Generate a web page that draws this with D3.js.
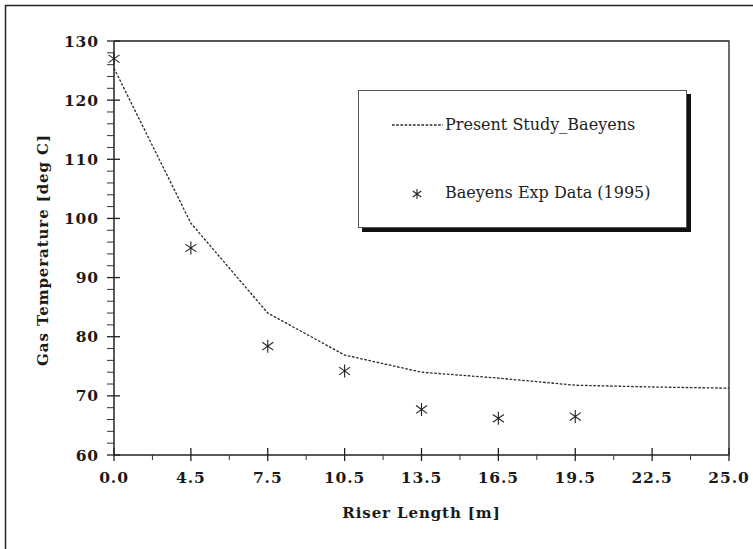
<!DOCTYPE html>
<html>
<head>
<meta charset="utf-8">
<script src="https://cdn.jsdelivr.net/npm/d3@7"></script>
<style>
  body { margin: 0; background: #fff; }
  svg { display: block; }
  .tick-lbl { font-family: "DejaVu Serif", serif; font-weight: bold; font-size: 15.5px; fill: #1a1a1a; letter-spacing: 0.9px; }
  .ttl { font-family: "DejaVu Serif", serif; font-weight: bold; font-size: 15px; fill: #1a1a1a; letter-spacing: 0.9px; }
  .leg { font-family: "DejaVu Serif", serif; font-size: 16px; fill: #222; }
</style>
</head>
<body>
<svg id="chart" width="753" height="549"></svg>
<script>
// x positions (riser length, m) - the axis is spaced evenly by label
const riserLength = ["0.0", "4.5", "7.5", "10.5", "13.5", "16.5", "19.5", "22.5", "25.0"]
// present study (dashed line)
const modelTemp = [125.4, 99.2, 84.0, 76.9, 74.0, 73.0, 71.8, 71.5, 71.3]
// Baeyens experimental data
const expLength = ["0.0", "4.5", "7.5", "10.5", "13.5", "16.5", "19.5"]
const expTemp = [127.0, 95.0, 78.4, 74.2, 67.7, 66.2, 66.5]
const yTicks = [60, 70, 80, 90, 100, 110, 120, 130]

const svg = d3.select("#chart")
const margin = {left: 114, right: 24, top: 41, bottom: 94}
const W = 753, H = 549

//outer frame (only top/left are inside the picture)
svg.append("path")
    .attr("d", `M5.5,${H}V5.5H${W}`)
    .attr("fill", "none").attr("stroke", "#222").attr("stroke-width", 1.5)

const x = d3.scalePoint().domain(riserLength).range([margin.left, W - margin.right])
const y = d3.scaleLinear().domain([60, 130]).range([H - margin.bottom, margin.top])
const x0 = x.range()[0], x1 = x.range()[1], y0 = y.range()[0], y1 = y.range()[1]

//plot box top + right
svg.append("path")
    .attr("d", `M${x0},${y1}H${x1}V${y0}`)
    .attr("fill", "none").attr("stroke", "#222").attr("stroke-width", 1.3)

// y axis
const yAxis = svg.append("g").attr("transform", `translate(${x0},0)`)
yAxis.append("line").attr("y1", y0).attr("y2", y1).attr("stroke", "#222").attr("stroke-width", 1.5)
const yMinor = d3.range(60, 131, 2).filter(v => v % 10 !== 0)
yAxis.selectAll(".ymin").data(yMinor).enter().append("line")
    .attr("x1", -7).attr("x2", 0)
    .attr("y1", d => y(d)).attr("y2", d => y(d))
    .attr("stroke", "#333").attr("stroke-width", 1)
yAxis.selectAll(".ymaj").data(yTicks).enter().append("line")
    .attr("x1", -7).attr("x2", 6)
    .attr("y1", d => y(d)).attr("y2", d => y(d))
    .attr("stroke", "#222").attr("stroke-width", 1.3)
yAxis.selectAll(".ylbl").data(yTicks).enter().append("text")
    .attr("class", "tick-lbl")
    .attr("x", -15).attr("y", d => y(d))
    .attr("dy", "0.36em")
    .attr("text-anchor", "end")
    .text(d => d)

// x axis
const xAxis = svg.append("g").attr("transform", `translate(0,${y0})`)
xAxis.append("line").attr("x1", x0).attr("x2", x1).attr("stroke", "#222").attr("stroke-width", 1.5)
const half = x.step() / 2
xAxis.selectAll(".xmin").data(riserLength.slice(0, -1)).enter().append("line")
    .attr("x1", d => x(d) + half).attr("x2", d => x(d) + half)
    .attr("y1", 0).attr("y2", 5)
    .attr("stroke", "#333").attr("stroke-width", 1)
xAxis.selectAll(".xmaj").data(riserLength).enter().append("line")
    .attr("x1", d => x(d)).attr("x2", d => x(d))
    .attr("y1", -7).attr("y2", 6)
    .attr("stroke", "#222").attr("stroke-width", 1.3)
xAxis.selectAll(".xlbl").data(riserLength).enter().append("text")
    .attr("class", "tick-lbl")
    .attr("x", d => x(d)).attr("y", 28)
    .attr("text-anchor", "middle")
    .text(d => d)

// axis titles
svg.append("text").attr("class", "ttl")
    .attr("x", (x0 + x1) / 2).attr("y", 518)
    .attr("text-anchor", "middle")
    .text("Riser Length [m]")
svg.append("text").attr("class", "ttl")
    .attr("transform", `translate(48,${(y0 + y1) / 2 + 2}) rotate(-90)`)
    .attr("text-anchor", "middle")
    .text("Gas Temperature [deg C]")

// model line
const line = d3.line().x((d, i) => x(riserLength[i])).y(d => y(d))
svg.append("path")
    .datum(modelTemp)
    .attr("d", line)
    .attr("fill", "none")
    .attr("stroke", "#2a2a2a")
    .attr("stroke-width", 1.3)
    .attr("stroke-dasharray", "2.6,1.6")

// star marker shape
const star = (s) => `M0,${-s}V${s}M${-s * 0.85},${-s * 0.6}L${s * 0.85},${s * 0.6}M${-s * 0.85},${s * 0.6}L${s * 0.85},${-s * 0.6}`

svg.selectAll(".pt").data(expTemp).enter().append("path")
    .attr("class", "pt")
    .attr("transform", (d, i) => `translate(${x(expLength[i])},${y(d)})`)
    .attr("d", star(6.5))
    .attr("fill", "none").attr("stroke", "#222").attr("stroke-width", 1.1)

// legend
const leg = svg.append("g")
leg.append("rect").attr("x", 362).attr("y", 94).attr("width", 329).attr("height", 138).attr("fill", "#111")
leg.append("rect").attr("x", 358.5).attr("y", 90.5).attr("width", 328).attr("height", 137)
    .attr("fill", "#fff").attr("stroke", "#555").attr("stroke-width", 1)
leg.append("line").attr("x1", 392).attr("x2", 443).attr("y1", 125).attr("y2", 125)
    .attr("stroke", "#2a2a2a").attr("stroke-width", 1.3).attr("stroke-dasharray", "2.6,1.6")
leg.append("text").attr("class", "leg").attr("x", 445).attr("y", 124).attr("dy", "0.35em")
    .text("Present Study_Baeyens")
leg.append("path").attr("transform", "translate(417,194)").attr("d", star(5))
    .attr("fill", "none").attr("stroke", "#222").attr("stroke-width", 1.1)
leg.append("text").attr("class", "leg").attr("x", 445).attr("y", 192).attr("dy", "0.35em")
    .text("Baeyens Exp Data (1995)")
</script>
</body>
</html>
